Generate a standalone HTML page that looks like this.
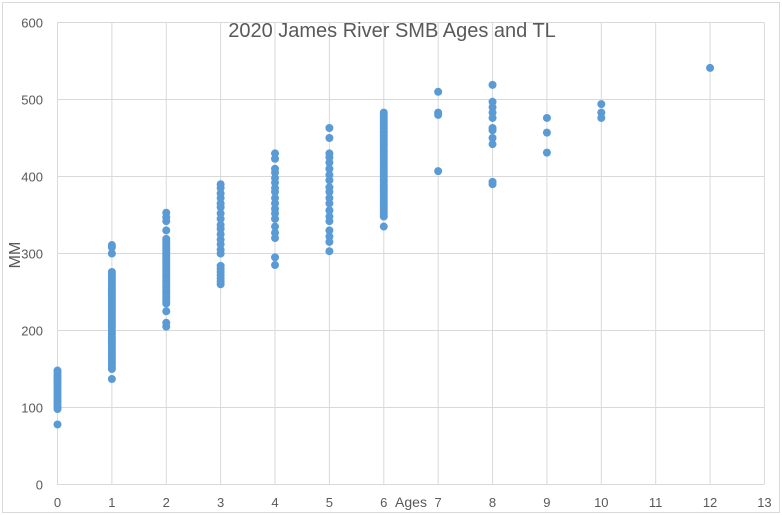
<!DOCTYPE html>
<html><head><meta charset="utf-8"><style>
html,body{margin:0;padding:0;background:#fff}
svg{display:block}
text{font-family:"Liberation Sans",sans-serif;fill:#595959}
</style></head><body>
<svg id="s" width="782" height="515" xmlns="http://www.w3.org/2000/svg">
<rect x="2.5" y="2.5" width="777" height="510" fill="#fff" stroke="#d9d9d9"/>
<g id="grid" stroke="#d9d9d9" stroke-width="1"></g>
<g id="lab" font-size="13"></g>
<text x="392" y="37" font-size="20" text-anchor="middle">2020 James River SMB Ages and TL</text>
<text x="20" y="255" font-size="16" text-anchor="middle" transform="rotate(-90 20 255)">MM</text>
<text x="411" y="507" font-size="14" text-anchor="middle">Ages</text>
<g id="pts" fill="#5b9bd5"></g>
</svg>
<script>
var NS="http://www.w3.org/2000/svg";
function X(a){return 57.5+a*54.38}
function Y(v){return 484.5-v*0.77}
function el(p,t,at,tx){var e=document.createElementNS(NS,t);for(var k in at)e.setAttribute(k,at[k]);if(tx!=null)e.textContent=tx;document.getElementById(p).appendChild(e);}
for(var i=0;i<=6;i++){el("grid","line",{x1:57.5,x2:764,y1:Y(i*100),y2:Y(i*100)});el("lab","text",{x:43,y:Y(i*100)+5,"text-anchor":"end"},i*100);}
for(var j=0;j<=13;j++){el("grid","line",{x1:X(j),x2:X(j),y1:22.5,y2:484.5});el("lab","text",{x:X(j),y:507,"text-anchor":"middle"},j);}
function rng(a,b,s){var r=[];for(var v=a;v<=b;v+=s)r.push(v);return r}
var d={
0:[78,98].concat(rng(100,148,3)),
1:[137].concat(rng(150,277,3),[300,308,311]),
2:[205,210,225].concat(rng(235,320,3),[330,342,347,353]),
3:rng(260,285,4).concat([300,305,312,318,325,332,337,345,352,360,365,372,378,385,390]),
4:[285,295,320,327,335,345,352,358,365,372,380,385,392,398,405,410,423,430],
5:[303,315,322,330,342,348,356,365,372,380,386,395,402,410,418,425,430,450,463],
6:[335].concat(rng(348,485,3)),
7:[407,480,483,510],
8:[390,393,442,450,460,463,476,483,490,497,519],
9:[431,457,476],
10:[476,483,494],
12:[541]};
for(var a in d)d[a].forEach(function(v){el("pts","circle",{cx:X(+a),cy:Y(v),r:4});});
</script>
</body></html>
